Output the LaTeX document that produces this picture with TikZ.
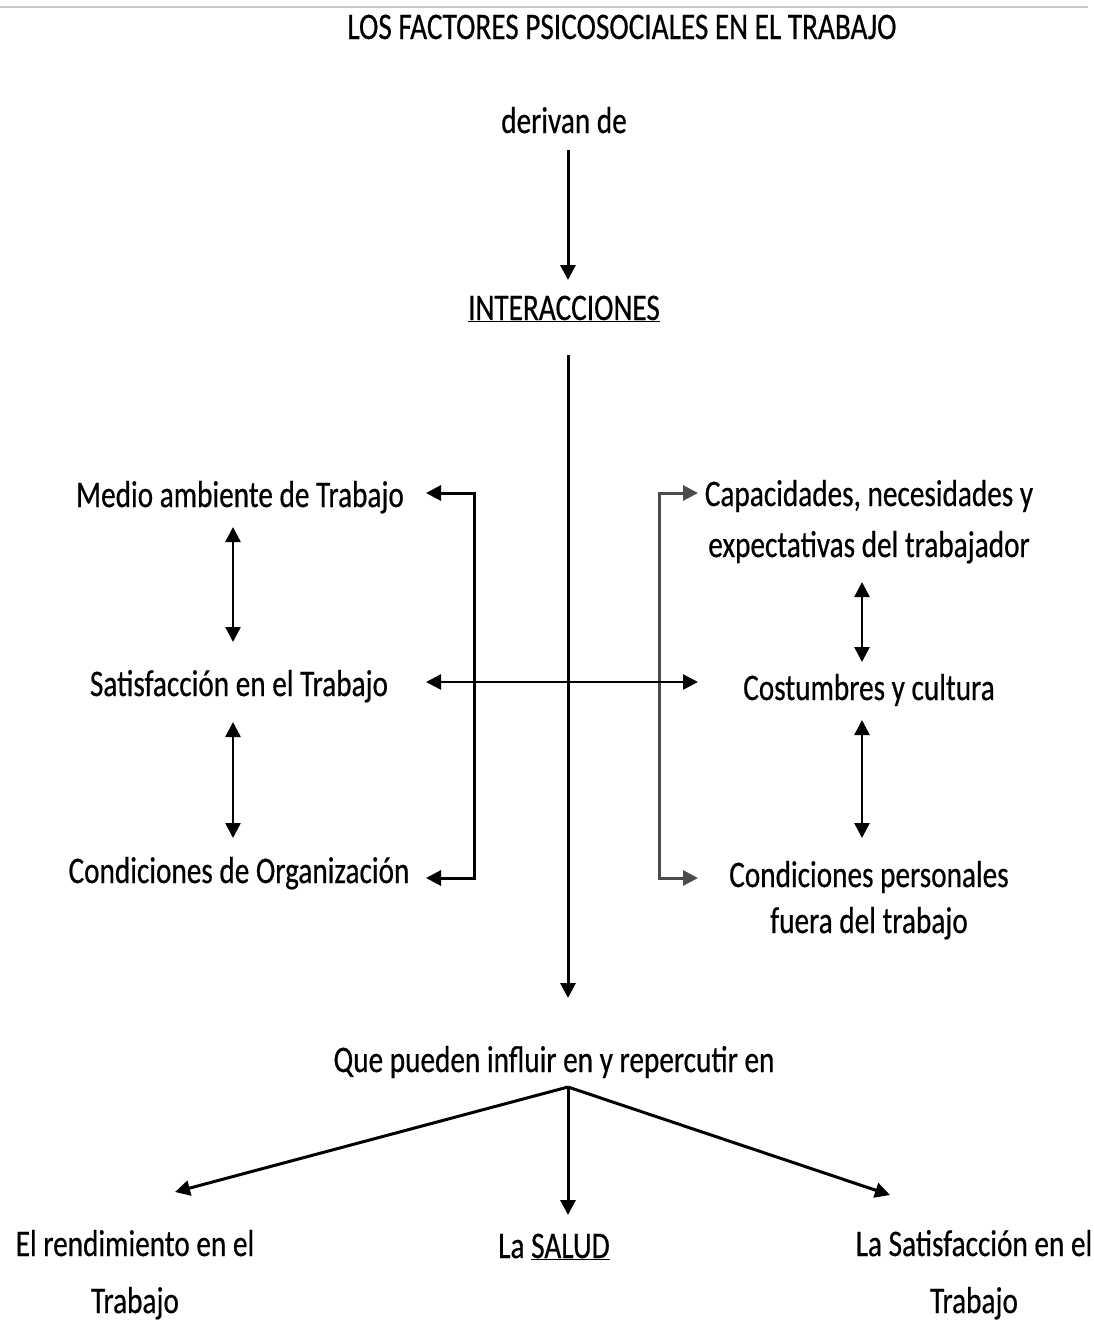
\documentclass[tikz,border=0pt]{standalone}
\usepackage{fontspec}
\setmainfont{Carlito}[FakeStretch=0.78,FakeBold=0.5]
\usetikzlibrary{arrows.meta}
\tikzstyle{txt}=[inner sep=0pt,anchor=base,align=center,font=\fontsize{37.5}{51}\selectfont]
\tikzstyle{edge}=[draw,line width=3pt,-{Triangle[length=15pt,width=15pt]}]
\tikzstyle{dbledge}=[draw,line width=2.5pt,{Triangle[length=15pt,width=15pt]}-{Triangle[length=15pt,width=15pt]}]

\begin{document}
\begin{tikzpicture}[x=1pt,y=-1pt]
    \useasboundingbox (0,0) rectangle (1093,1323);
    \draw[line width=2pt,black!22] (0,7) -- (1088,7);

    % texts (base = last line)
    \foreach \pos/ \name/ \texto in {{(622,39)/titulo/{LOS FACTORES PSICOSOCIALES EN EL TRABAJO}},
        {(564,133)/derivan/{derivan de}}, {(564,320)/inter/{\underline{INTERACCIONES}}},
        {(240,507)/medio/{Medio ambiente de Trabajo}}, {(239,696)/satis/{Satisfacción en el Trabajo}},
        {(239,883)/organiz/{Condiciones de Organización}},
        {(869,557)/capac/{Capacidades, necesidades y\\expectativas del trabajador}},
        {(869,700)/costum/{Costumbres y cultura}},
        {(869,933)/person/{Condiciones personales\\[-5pt]fuera del trabajo}},
        {(554,1072)/que/{Que pueden influir en y repercutir en}},
        {(135,1313)/rend/{El rendimiento en el\\[6pt]Trabajo}},
        {(554,1258)/salud/{La \underline{SALUD}}},
        {(974,1313)/satisf/{La Satisfacción en el\\[6pt]Trabajo}}}
        \node[txt] (\name) at \pos {\texto};

    % end points of the connectors
    \foreach \pos/ \name in {{(568,150)/d0}, {(568,280)/d1}, {(568,355)/m0}, {(568,998)/m1},
        {(474,493)/l0}, {(474,878)/l1}, {(426,493)/l2}, {(426,878)/l3},
        {(659,493)/r0}, {(659,878)/r1}, {(698,493)/r2}, {(698,878)/r3},
        {(426,682)/h0}, {(698,682)/h1},
        {(233,527)/a0}, {(233,642)/a1}, {(233,722)/a2}, {(233,838)/a3},
        {(862,582)/b0}, {(862,662)/b1}, {(862,720)/b2}, {(862,838)/b3},
        {(568,1087)/f0}, {(175,1192)/f1}, {(568,1215)/f2}, {(890,1195)/f3}}
        \path \pos coordinate (\name);

    \path[edge] (d0) -- (d1);
    \path[edge] (m0) -- (m1);

    % brackets
    \path[edge] (l1) -- (l0) -- (l2);
    \path[edge] (l0) -- (l1) -- (l3);
    \path[edge, black!70] (r1) -- (r0) -- (r2);
    \path[edge, black!70] (r0) -- (r1) -- (r3);
    \path[dbledge] (h0) -- (h1);

    \foreach \source/ \dest in {a0/a1, a2/a3, b0/b1, b2/b3}
        \path[dbledge] (\source) -- (\dest);

    \foreach \dest in {f1, f2, f3}
        \path[edge] (f0) -- (\dest);
\end{tikzpicture}
\end{document}
